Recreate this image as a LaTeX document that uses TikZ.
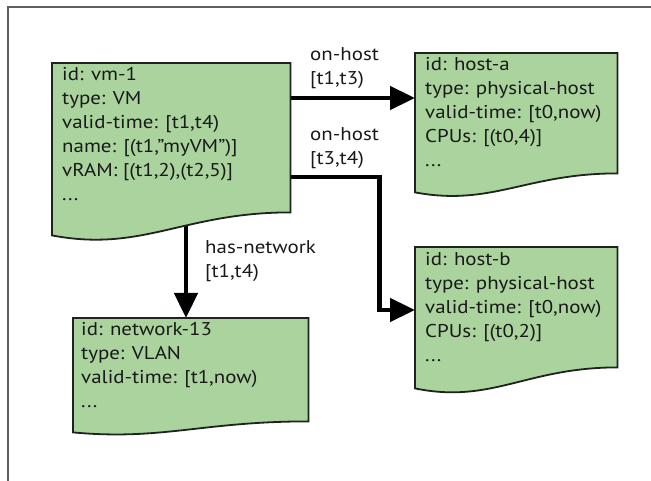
\documentclass[tikz,border=0pt]{standalone}
\usepackage{fontspec}
\setmainfont[FakeStretch=1.13]{PT Sans}
\usetikzlibrary{arrows.meta,calc}

\definecolor{docgreen}{RGB}{170,211,158}
\definecolor{docline}{RGB}{30,35,30}
\definecolor{framegray}{RGB}{95,95,95}

% document shape with a wavy bottom edge: #1 = node, #2 = rise of the right end
\newcommand\wavedoc[2]{%
  \path[docfill] (#1.north west) -- (#1.north east)
    -- ($(#1.south east)+(0,-#2)$)
    .. controls ($(#1.south west)!0.55!(#1.south east)+(0,-#2)$)
            and ($(#1.south west)!0.38!(#1.south east)+(0,0.75*#2)$)
    .. (#1.south west) -- cycle;}
% straight double quote
\newcommand\dq{\char"22\relax}

\begin{document}
\begin{tikzpicture}[x=1pt,y=-1pt,
  docbox/.style={draw=none,inner sep=0pt,anchor=north west},
  docfill/.style={fill=docgreen,draw=docline,line width=1.8pt,line join=miter},
  doctext/.style={inner sep=0pt,anchor=north west,align=left,
    font=\fontsize{18.5}{24}\selectfont,text=black!90},
  lbltext/.style={inner sep=0pt,anchor=north west,align=left,
    font=\fontsize{18.5}{24}\selectfont,text=black!90},
  conn/.style={line width=4.6pt,draw=black,
    -{Triangle[length=25pt,width=23pt]}}]

\useasboundingbox (0,0) rectangle (651,481);
\fill[white] (0,0) rectangle (651,481);

% page frame
\draw[framegray,line width=1.2pt] (8,481) -- (8,7) -- (651,7);

% box outlines (placement only)
\node[docbox,minimum width=238pt,minimum height=172pt] (vm)  at (52,63)  {};
\node[docbox,minimum width=202pt,minimum height=139pt] (ha)  at (415,53) {};
\node[docbox,minimum width=202pt,minimum height=141pt] (hb)  at (415,247) {};
\node[docbox,minimum width=235pt,minimum height=114pt] (net) at (73,318) {};

% connectors
\coordinate (haIn)  at ($(ha.north west)+(0,45)$);
\coordinate (vmOut1) at (vm.east |- haIn);
\draw[conn] (vmOut1) -- (haIn);

\coordinate (vmOut2) at ($(vm.north east)+(0,114)$);
\coordinate (hbIn)  at ($(hb.north west)+(0,63)$);
\draw[conn,line join=miter] (vmOut2) -- ++(89,0) |- (hbIn);

\coordinate (vmDown) at ($(vm.south west)+(134,-10)$);
\draw[conn] (vmDown) -- (vmDown |- net.north);

% documents
\wavedoc{vm}{23}
\wavedoc{ha}{19}
\wavedoc{hb}{21}
\wavedoc{net}{11}

% document contents
\node[doctext] (vm-t) at (62,67)
  {id: vm-1\\type: VM\\valid-time: [t1,t4)\\name: [(t1,\dq myVM\dq)]\\vRAM: [(t1,2),(t2,5)]\\...};
\node[doctext] (ha-t) at (425,57)
  {id: host-a\\type: physical-host\\valid-time: [t0,now)\\CPUs: [(t0,4)]\\...};
\node[doctext] (hb-t) at (425,252)
  {id: host-b\\type: physical-host\\valid-time: [t0,now)\\CPUs: [(t0,2)]\\...};
\node[doctext] (net-t) at (81,322)
  {id: network-13\\type: VLAN\\valid-time: [t1,now)\\...};

% connector labels
\node[lbltext] (l1) at (310,47)  {on-host\\{[}t1,t3)};
\node[lbltext] (l2) at (310,127) {on-host\\{[}t3,t4)};
\node[lbltext] (l3) at (205,240) {has-network\\{[}t1,t4)};
\end{tikzpicture}
\end{document}
